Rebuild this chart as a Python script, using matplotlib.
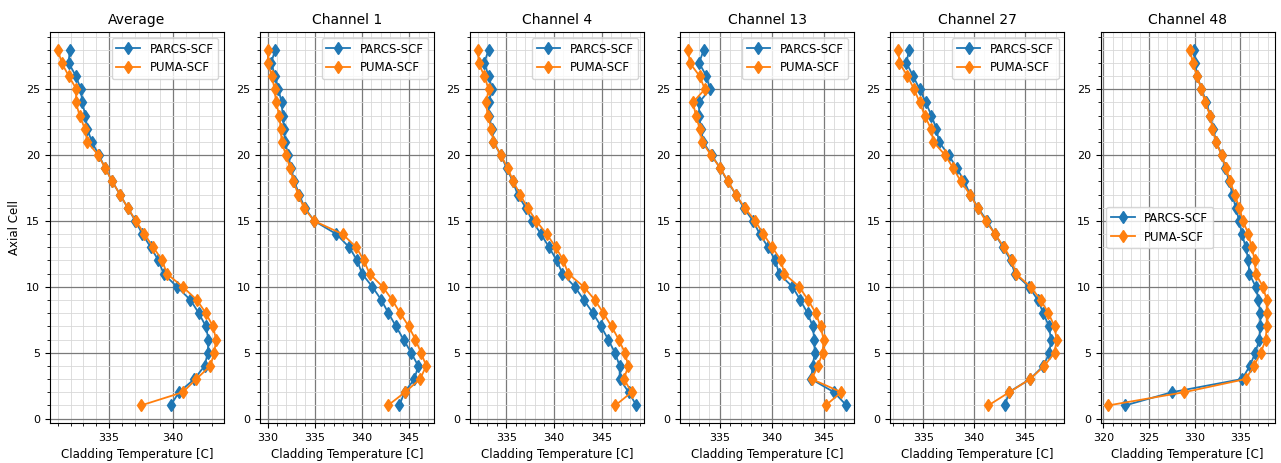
import matplotlib.pyplot as plt
from matplotlib.ticker import MultipleLocator

axial_cells = list(range(1, 29))

panel_titles = ['Average', 'Channel 1', 'Channel 4', 'Channel 13', 'Channel 27', 'Channel 48']

# cladding temperature per axial cell, cell 1 first
avg_parcs = [339.8, 340.45, 341.65, 342.45, 342.7, 342.75, 342.55, 342.0, 341.35, 340.3,
             339.25, 338.85, 338.25, 337.6, 337.05, 336.45, 335.85, 335.25, 334.7, 334.2,
             333.65, 333.3, 333.15, 332.9, 332.8, 332.4, 331.85, 331.92]
avg_puma = [337.5, 340.75, 341.8, 342.9, 343.2, 343.35, 343.1, 342.55, 341.85, 340.75,
            339.5, 339.15, 338.45, 337.75, 337.1, 336.45, 335.85, 335.25, 334.7, 334.15,
            333.3, 333.1, 332.7, 332.4, 332.45, 331.85, 331.3, 331.0]

ch1_parcs = [343.95, 344.5, 345.55, 345.95, 345.2, 344.4, 343.6, 342.8, 342.05, 341.1,
             340.0, 339.5, 338.65, 337.3, 334.95, 333.95, 333.35, 332.85, 332.5, 332.2,
             331.85, 331.75, 331.6, 331.5, 331.15, 330.8, 330.4, 330.8]
ch1_puma = [342.75, 344.55, 346.15, 346.8, 346.25, 345.65, 344.95, 344.05, 343.2, 342.2,
            340.8, 340.2, 339.4, 337.95, 334.95, 333.85, 333.25, 332.75, 332.4, 331.95,
            331.5, 331.4, 331.25, 330.9, 330.75, 330.45, 330.05, 330.05]

ch4_parcs = [348.65, 347.85, 346.9, 346.9, 346.4, 345.7, 344.95, 344.1, 343.15, 342.2,
             340.9, 340.3, 339.5, 338.65, 337.75, 337.05, 336.2, 335.7, 335.05, 334.45,
             333.65, 333.5, 333.2, 333.15, 333.55, 333.15, 332.7, 333.15]
ch4_puma = [346.45, 348.15, 347.35, 347.8, 347.45, 346.8, 346.05, 345.2, 344.3, 343.15,
            341.5, 341.0, 340.2, 339.25, 338.15, 337.25, 336.45, 335.75, 335.15, 334.45,
            333.65, 333.45, 333.05, 332.9, 333.15, 332.7, 332.1, 332.05]

ch13_parcs = [347.2, 346.0, 343.8, 343.95, 344.15, 344.1, 343.95, 343.45, 342.75, 342.0,
              340.7, 340.35, 339.65, 338.85, 338.2, 337.3, 336.55, 335.75, 335.05, 334.2,
              333.4, 333.2, 333.0, 333.0, 334.05, 333.7, 333.0, 333.45]
ch13_puma = [345.2, 346.7, 343.85, 344.45, 344.9, 345.0, 344.7, 344.25, 343.5, 342.65,
             341.2, 340.9, 340.05, 339.2, 338.4, 337.4, 336.55, 335.8, 335.05, 334.15,
             333.3, 333.05, 332.7, 332.4, 333.55, 333.05, 332.1, 331.95]

ch27_parcs = [343.05, 343.4, 345.5, 346.8, 347.4, 347.55, 347.35, 346.8, 346.25, 345.4,
              344.0, 343.6, 342.85, 342.05, 341.25, 340.4, 339.6, 339.05, 338.3, 337.5,
              336.55, 336.3, 335.8, 335.25, 334.65, 334.0, 333.35, 333.6]
ch27_puma = [341.4, 343.45, 345.5, 346.9, 347.9, 348.1, 347.9, 347.3, 346.55, 345.55,
             344.1, 343.7, 342.95, 342.05, 341.15, 340.35, 339.6, 338.7, 337.95, 337.15,
             336.0, 335.75, 335.15, 334.65, 334.1, 333.45, 332.65, 332.55]

ch48_parcs = [322.4, 327.5, 335.2, 336.05, 336.65, 337.1, 337.2, 337.2, 337.0, 336.7,
              336.0, 335.9, 335.6, 335.2, 334.9, 334.5, 334.15, 333.8, 333.35, 333.0,
              332.35, 332.05, 331.7, 331.3, 330.75, 330.3, 330.05, 329.9]
ch48_puma = [320.55, 328.85, 335.6, 336.5, 337.25, 337.8, 337.9, 337.9, 337.9, 337.5,
             336.7, 336.6, 336.25, 335.9, 335.3, 334.9, 334.4, 333.9, 333.45, 332.95,
             332.35, 331.95, 331.7, 331.15, 330.75, 330.25, 329.8, 329.5]

parcs_series = [avg_parcs, ch1_parcs, ch4_parcs, ch13_parcs, ch27_parcs, ch48_parcs]
puma_series = [avg_puma, ch1_puma, ch4_puma, ch13_puma, ch27_puma, ch48_puma]
legend_locs = ['upper right'] * 5 + ['center left']

fig, axes = plt.subplots(1, 6, figsize=(12.81, 4.63), dpi=100)
fig.subplots_adjust(left=0.039, right=0.995, bottom=0.086, top=0.931, wspace=0.207)

for ax, title, parcs, puma, loc in zip(axes, panel_titles, parcs_series, puma_series, legend_locs):
    ax.plot(parcs, axial_cells, marker='d', markersize=6, linewidth=1.3, color='tab:blue', label='PARCS-SCF')
    ax.plot(puma, axial_cells, marker='d', markersize=6, linewidth=1.3, color='tab:orange', label='PUMA-SCF')
    ax.set_title(title, fontsize=10)
    ax.set_xlabel('Cladding Temperature [C]', fontsize=8.5)
    ax.xaxis.set_major_locator(MultipleLocator(5))
    ax.xaxis.set_minor_locator(MultipleLocator(1))
    ax.yaxis.set_major_locator(MultipleLocator(5))
    ax.yaxis.set_minor_locator(MultipleLocator(1))
    ax.tick_params(labelsize=8)
    ax.grid(which='major', color='#7a7a7a', linewidth=0.9)
    ax.grid(which='minor', color='#d8d8d8', linewidth=0.6)
    ax.set_axisbelow(True)
    ax.legend(loc=loc, fontsize=8.5)

axes[0].set_ylabel('Axial Cell', fontsize=8.5)

fig.savefig('out.png')
